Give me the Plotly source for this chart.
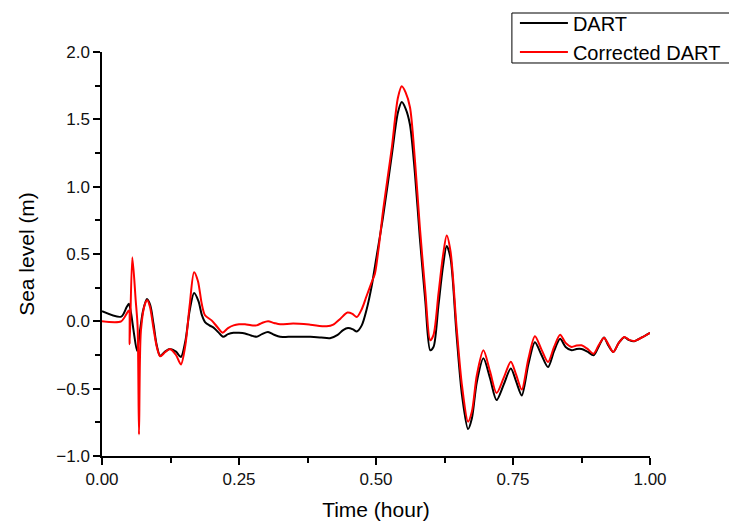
import plotly.graph_objects as go

# Time axis (hours) and sea-level records (m)
dart_t = [0.000, 0.035, 0.045, 0.049, 0.053, 0.058, 0.064, 0.069, 0.075, 0.082,
          0.088, 0.094, 0.100, 0.106, 0.115, 0.124, 0.135, 0.144, 0.152, 0.160,
          0.168, 0.176, 0.182, 0.188, 0.196, 0.203, 0.212, 0.221, 0.230, 0.240,
          0.250, 0.261, 0.272, 0.282, 0.292, 0.303, 0.314, 0.325, 0.340, 0.361,
          0.380, 0.400, 0.416, 0.430, 0.440, 0.449, 0.458, 0.465, 0.474, 0.483,
          0.492, 0.501, 0.513, 0.529, 0.540, 0.547, 0.554, 0.562, 0.571, 0.580,
          0.590, 0.599, 0.605, 0.614, 0.622, 0.629, 0.636, 0.647, 0.657, 0.668,
          0.675, 0.684, 0.696, 0.708, 0.720, 0.733, 0.746, 0.756, 0.766, 0.778,
          0.790, 0.802, 0.814, 0.825, 0.836, 0.846, 0.857, 0.866, 0.875, 0.886,
          0.897, 0.906, 0.916, 0.924, 0.933, 0.943, 0.953, 0.962, 0.971, 0.985,
          1.000]
dart_v = [0.075, 0.035, 0.106, 0.130, 0.060, -0.080, -0.220, -0.080, 0.080, 0.165,
          0.120, -0.020, -0.180, -0.255, -0.225, -0.205, -0.225, -0.265, -0.150, 0.080,
          0.210, 0.150, 0.050, -0.005, -0.030, -0.045, -0.080, -0.115, -0.095, -0.085,
          -0.085, -0.090, -0.105, -0.115, -0.095, -0.080, -0.100, -0.115, -0.115, -0.115,
          -0.115, -0.120, -0.125, -0.100, -0.065, -0.050, -0.060, -0.075, -0.030, 0.090,
          0.260, 0.480, 0.780, 1.240, 1.550, 1.628, 1.580, 1.460, 1.100, 0.620,
          0.150, -0.215, -0.190, 0.120, 0.400, 0.560, 0.470, -0.100, -0.550, -0.800,
          -0.720, -0.450, -0.275, -0.420, -0.585, -0.470, -0.350, -0.450, -0.550, -0.320,
          -0.155, -0.250, -0.340, -0.220, -0.130, -0.190, -0.215, -0.205, -0.205, -0.225,
          -0.252, -0.190, -0.120, -0.180, -0.228, -0.160, -0.118, -0.140, -0.148, -0.120,
          -0.085]

corr_t = [0.000, 0.035, 0.045, 0.049, 0.0505, 0.0553, 0.0615, 0.065, 0.0675, 0.071,
          0.0785, 0.0827, 0.0876, 0.0936, 0.100, 0.106, 0.115, 0.124, 0.135, 0.144,
          0.152, 0.160, 0.168, 0.175, 0.182, 0.188, 0.200, 0.210, 0.220, 0.230,
          0.240, 0.250, 0.261, 0.272, 0.282, 0.292, 0.303, 0.314, 0.325, 0.349,
          0.380, 0.410, 0.422, 0.435, 0.448, 0.457, 0.465, 0.474, 0.483, 0.492,
          0.498, 0.505, 0.513, 0.521, 0.529, 0.540, 0.547, 0.554, 0.562, 0.571,
          0.580, 0.590, 0.599, 0.605, 0.614, 0.622, 0.629, 0.636, 0.647, 0.657,
          0.668, 0.675, 0.684, 0.696, 0.708, 0.720, 0.733, 0.746, 0.756, 0.766,
          0.778, 0.790, 0.802, 0.814, 0.825, 0.836, 0.846, 0.857, 0.866, 0.875,
          0.886, 0.897, 0.906, 0.916, 0.924, 0.933, 0.943, 0.953, 0.962, 0.971,
          0.985, 1.000]
corr_v = [0.000, 0.000, 0.057, 0.080, -0.170, 0.475, 0.156, -0.040, -0.840, -0.070,
          0.130, 0.156, 0.106, -0.042, -0.190, -0.260, -0.230, -0.205, -0.250, -0.320,
          -0.180, 0.120, 0.365, 0.300, 0.130, 0.045, 0.007, -0.040, -0.084, -0.050,
          -0.030, -0.022, -0.022, -0.030, -0.030, -0.012, 0.000, -0.012, -0.022, -0.017,
          -0.025, -0.037, -0.025, 0.020, 0.065, 0.055, 0.032, 0.090, 0.190, 0.290,
          0.354, 0.550, 0.824, 1.060, 1.294, 1.660, 1.745, 1.700, 1.590, 1.200,
          0.700, 0.220, -0.140, -0.100, 0.205, 0.480, 0.638, 0.520, -0.040, -0.480,
          -0.745, -0.670, -0.400, -0.215, -0.370, -0.532, -0.420, -0.300, -0.400, -0.507,
          -0.280, -0.111, -0.210, -0.302, -0.190, -0.099, -0.160, -0.190, -0.180, -0.178,
          -0.205, -0.240, -0.180, -0.121, -0.170, -0.228, -0.160, -0.116, -0.138, -0.146,
          -0.120, -0.085]

x_ticks = [0.0, 0.25, 0.5, 0.75, 1.0]
y_ticks = [-1.0, -0.5, 0.0, 0.5, 1.0, 1.5, 2.0]

FONT = "Liberation Sans, Arial, sans-serif"

fig = go.Figure()
fig.add_trace(go.Scatter(x=dart_t, y=dart_v, mode="lines", name="DART",
                         line=dict(color="black", width=2, shape="spline", smoothing=0.8)))
fig.add_trace(go.Scatter(x=corr_t, y=corr_v, mode="lines", name="Corrected DART",
                         line=dict(color="#ff0000", width=2, shape="spline", smoothing=0.8)))

axis_common = dict(showline=True, linecolor="black", linewidth=1.5, mirror=False,
                   showgrid=False, zeroline=False, ticks="outside", ticklen=7,
                   tickwidth=1.5, tickcolor="black",
                   tickfont=dict(family=FONT, size=17, color="#111111"))

fig.update_xaxes(range=[0, 1], tickvals=x_ticks, tickformat=".2f",
                 title=dict(text="Time (hour)", font=dict(family=FONT, size=21, color="black"),
                            standoff=14),
                 minor=dict(dtick=0.125, ticks="outside", ticklen=5, tickwidth=1.5,
                            tickcolor="black", tick0=0),
                 **axis_common)
fig.update_yaxes(range=[-1, 2], tickvals=y_ticks, tickformat=".1f",
                 title=dict(text="Sea level (m)", font=dict(family=FONT, size=21, color="black"),
                            standoff=16),
                 minor=dict(dtick=0.25, ticks="outside", ticklen=5, tickwidth=1.5,
                            tickcolor="black", tick0=0),
                 **axis_common)

# Legend frame drawn as a paper-referenced rectangle so it hugs the two entries
fig.add_shape(type="rect", xref="paper", yref="paper",
              x0=0.748, x1=1.16, y0=0.9728, y1=1.0965,
              line=dict(color="black", width=1), fillcolor="rgba(0,0,0,0)", layer="above")

fig.update_layout(
    width=729, height=521,
    margin=dict(l=102, r=79, t=52, b=65, autoexpand=False),
    paper_bgcolor="white", plot_bgcolor="white",
    font=dict(family=FONT, color="black"),
    legend=dict(x=0.7535, y=1.12, xanchor="left", yanchor="top",
                borderwidth=0, bgcolor="rgba(0,0,0,0)",
                font=dict(family=FONT, size=20, color="black"),
                tracegroupgap=0, itemwidth=48),
)

fig.write_html("out.html")
